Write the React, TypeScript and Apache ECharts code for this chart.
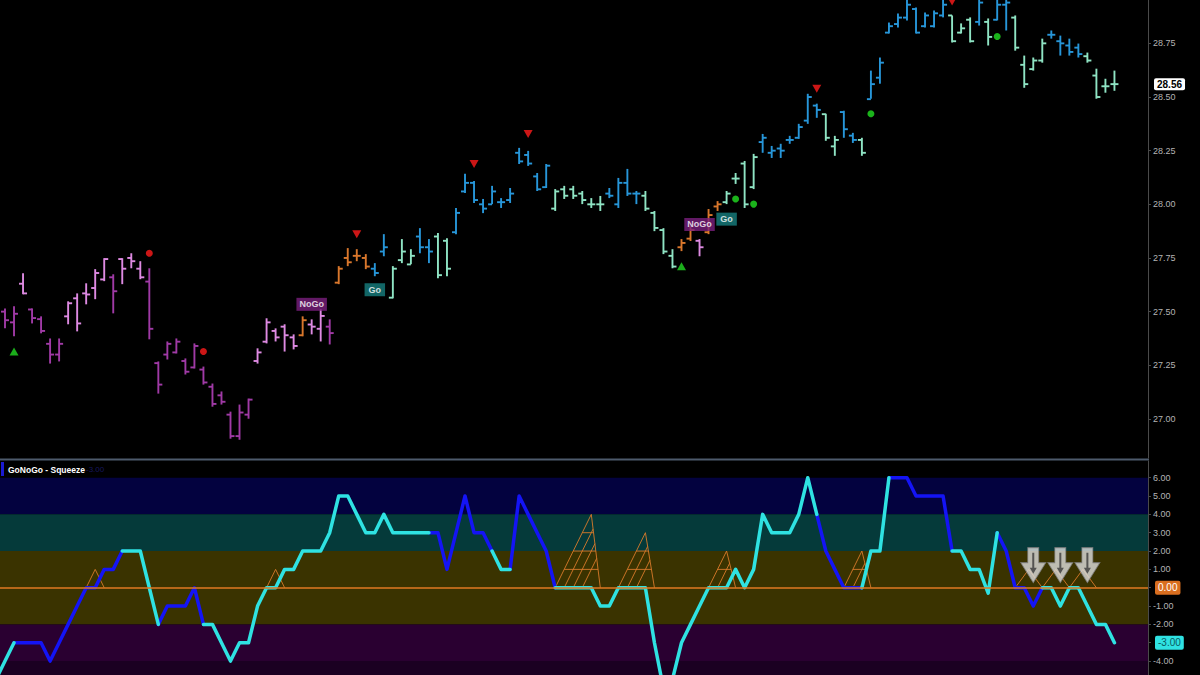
import React, { useEffect, useRef } from "react";
import * as echarts from "echarts";

// ---------- price bars (one entry per bar, left to right) ----------
const opens = [
  27.50, 27.45, 27.63, 27.51, 27.465, 27.35, 27.30, 27.478, 27.562, 27.585,
  27.61, 27.65, 27.66, 27.745, 27.75, 27.70, 27.64, 27.26, 27.30, 27.31,
  27.27, 27.24, 27.23, 27.15, 27.11, 27.02, 26.92, 27.02, 27.27, 27.36,
  27.41, 27.43, 27.38, 27.39, 27.44, 27.42, 27.43, 27.635, 27.75, 27.76,
  27.75, 27.70, 27.78, 27.565, 27.74, 27.72, 27.85, 27.80, 27.85, 27.83,
  27.87, 28.06, 28.10, 28.00, 28.00, 28.01, 28.02, 28.24, 28.23, 28.13,
  28.08, 27.98, 28.07, 28.07, 28.05, 28.00, 28.00, 28.05, 28.00, 28.10,
  28.05, 28.04, 27.96, 27.88, 27.76, 27.80, 27.84, 27.83, 27.87, 27.99,
  28.01, 28.12, 28.19, 28.08, 28.29, 28.24, 28.26, 28.30, 28.31, 28.39,
  28.46, 28.42, 28.27, 28.43, 28.32, 28.30, 28.49, 28.59, 28.80, 28.84,
  28.87, 28.91, 28.83, 28.83, 28.88, 28.88, 28.80, 28.86, 28.85, 28.85,
  28.86, 28.93, 28.87, 28.65, 28.63, 28.67, 28.79, 28.76, 28.74, 28.73,
  28.69, 28.60, 28.55, 28.56,
];
const highs = [
  27.515, 27.525, 27.679, 27.515, 27.478, 27.375, 27.375, 27.548, 27.585, 27.632,
  27.698, 27.749, 27.674, 27.749, 27.772, 27.735, 27.702, 27.268, 27.361, 27.375,
  27.282, 27.352, 27.244, 27.165, 27.128, 27.034, 27.067, 27.095, 27.329, 27.469,
  27.422, 27.441, 27.394, 27.478, 27.464, 27.511, 27.464, 27.712, 27.796, 27.791,
  27.768, 27.726, 27.861, 27.712, 27.838, 27.791, 27.889, 27.838, 27.866, 27.842,
  27.983, 28.142, 28.109, 28.025, 28.086, 28.029, 28.076, 28.263, 28.249, 28.146,
  28.188, 28.071, 28.086, 28.086, 28.062, 28.029, 28.039, 28.076, 28.123, 28.165,
  28.062, 28.062, 27.969, 27.889, 27.791, 27.838, 27.899, 27.838, 27.978, 28.015,
  28.062, 28.146, 28.202, 28.235, 28.328, 28.272, 28.282, 28.319, 28.375, 28.515,
  28.469, 28.422, 28.319, 28.436, 28.333, 28.310, 28.623, 28.684, 28.847, 28.889,
  28.97, 28.917, 28.894, 28.903, 28.97, 28.880, 28.843, 28.871, 28.97, 28.866,
  28.97, 28.97, 28.880, 28.693, 28.684, 28.772, 28.810, 28.786, 28.772, 28.749,
  28.707, 28.632, 28.585, 28.623,
];
const lows = [
  27.422, 27.385, 27.581, 27.445, 27.399, 27.258, 27.268, 27.441, 27.408, 27.534,
  27.558, 27.642, 27.492, 27.628, 27.702, 27.651, 27.371, 27.118, 27.277, 27.305,
  27.207, 27.235, 27.160, 27.057, 27.067, 26.908, 26.903, 27.001, 27.258, 27.352,
  27.361, 27.314, 27.324, 27.385, 27.394, 27.361, 27.347, 27.628, 27.712, 27.735,
  27.698, 27.665, 27.758, 27.562, 27.726, 27.721, 27.772, 27.726, 27.656, 27.665,
  27.861, 28.053, 28.006, 27.959, 28.001, 27.983, 28.006, 28.188, 28.179, 28.062,
  28.076, 27.969, 28.025, 28.025, 28.001, 27.983, 27.969, 28.029, 27.983, 28.039,
  28.001, 27.969, 27.875, 27.768, 27.702, 27.782, 27.829, 27.758, 27.861, 27.969,
  28.001, 28.095, 27.983, 28.071, 28.240, 28.216, 28.216, 28.282, 28.305, 28.375,
  28.403, 28.296, 28.226, 28.310, 28.286, 28.226, 28.492, 28.562, 28.796, 28.824,
  28.857, 28.796, 28.824, 28.824, 28.871, 28.754, 28.796, 28.754, 28.833, 28.740,
  28.857, 28.810, 28.716, 28.543, 28.623, 28.660, 28.772, 28.693, 28.693, 28.684,
  28.660, 28.492, 28.520, 28.529,
];
const closes = [
  27.46, 27.49, 27.585, 27.47, 27.41, 27.30, 27.35, 27.539, 27.445, 27.58,
  27.68, 27.745, 27.595, 27.70, 27.735, 27.66, 27.42, 27.16, 27.35, 27.36,
  27.22, 27.34, 27.17, 27.07, 27.08, 26.92, 27.03, 27.09, 27.31, 27.45,
  27.38, 27.39, 27.34, 27.46, 27.43, 27.48, 27.40, 27.70, 27.73, 27.76,
  27.71, 27.68, 27.80, 27.70, 27.78, 27.76, 27.80, 27.78, 27.67, 27.70,
  27.96, 28.10, 28.02, 27.98, 28.06, 28.01, 28.05, 28.20, 28.19, 28.07,
  28.18, 28.06, 28.04, 28.04, 28.02, 28.00, 28.00, 28.04, 28.10, 28.05,
  28.05, 27.98, 27.89, 27.78, 27.71, 27.82, 27.88, 27.80, 27.95, 28.00,
  28.05, 28.12, 28.00, 28.22, 28.31, 28.25, 28.25, 28.30, 28.36, 28.50,
  28.44, 28.31, 28.30, 28.35, 28.30, 28.24, 28.56, 28.66, 28.83, 28.87,
  28.93, 28.80, 28.88, 28.89, 28.93, 28.76, 28.82, 28.76, 28.94, 28.78,
  28.93, 28.94, 28.73, 28.56, 28.67, 28.75, 28.79, 28.75, 28.71, 28.70,
  28.67, 28.50, 28.55, 28.56,
];
// P = strong NoGo, K = weak NoGo, O = amber, B = strong Go, A = weak Go
const barRegimes = (
  "PP" + "K" + "PPPP" + "KKKKK" + "P" + "KKK" + "PPPPPPPPPPPP" + "KKKKK" + "O" + "KK" + "P" +
  "OOOO" + "BB" + "AAA" + "BB" + "AA" + "BBBBBBBBBBB" + "AAAAAA" + "BBBB" + "AAAA" + "OO" + "K" +
  "OO" + "AAAA" + "BBBBBBB" + "AA" + "BB" + "A" + "BBBBBBBBB" + "AAA" + "B" + "A" + "BB" +
  "AAAA" + "BBBB" + "AAAA"
).split("");

const priceTicks = [27.0, 27.25, 27.5, 27.75, 28.0, 28.25, 28.5, 28.75];

// ---------- price markers (bar index, price) ----------
const redDotIdx = [16, 22];
const redDotPrice = [27.772, 27.314];
const redTriIdx = [39, 52, 58, 90, 105];
const redTriPrice = [27.861, 28.188, 28.328, 28.539, 28.945];
const greenTriIdx = [1, 75];
const greenTriPrice = [27.314, 27.712];
const greenDotIdx = [81, 83, 96, 110];
const greenDotPrice = [28.025, 28.001, 28.422, 28.782];
const noGoIdx = [34, 77];
const noGoPrice = [27.534, 27.906];
const goIdx = [41, 80];
const goPrice = [27.602, 27.931];

// ---------- GoNoGo squeeze (first value sits at bar index -1) ----------
const SQ_FIRST_IDX = -1;
const squeeze = [
  -5, -4, -3, -3, -3, -3, -4, -3, -2, -1,
  0, 0, 1, 1, 2, 2, 2, 0, -2, -1,
  -1, -1, 0, -2, -2, -3, -4, -3, -3, -1,
  0, 0, 1, 1, 2, 2, 2, 3, 5, 5,
  4, 3, 3, 4, 3, 3, 3, 3, 3, 3,
  1, 3, 5, 3, 3, 2, 1, 1, 5, 4,
  3, 2, 0, 0, 0, 0, 0, -1, -1, 0,
  0, 0, 0, -3, -5.5, -5, -3, -2, -1, 0,
  0, 0, 1, 0, 1, 4, 3, 3, 3, 4,
  6, 4, 2, 1, 0, 0, 0, 2, 2, 6,
  6, 6, 5, 5, 5, 5, 2, 2, 1, 1,
  -0.3, 3, 2, 0, 0, -1, 0, 0, -1, 0,
  0, -1, -2, -2, -3,
];
// colour of each segment between consecutive squeeze points: C = cyan, B = blue
const squeezeSegColors =
  "CC" + "BBBBBBBBBBBB" + "CCCC" + "BBBBB" + "CCCCCCCCCCCCCCCCCCCCCCCCC" + "BBBBBBB" + "CC" +
  "BBBBB" + "CCCCCCCCCCCCCCCCCCCCCCCCCCCCC" + "BBBBB" + "CCC" + "BBBBBBB" + "CCCCC" + "BBBBB" + "CCCCCCCC";
const squeezeTicks = [-4, -3, -2, -1, 0, 1, 2, 3, 4, 5, 6];

// squeeze build-up grids
const sqStart = [9, 29, 61, 68, 78, 93, 112, 115, 118];
const sqApex = [10, 30, 65, 71, 80, 95, 113.5, 116.5, 119.5];
const sqEnd = [11, 31, 66, 72, 81, 96, 115, 118, 121];
const sqLevel = [1, 1, 4, 3, 2, 2, 1, 1, 1];

// down arrows
const arrowIdx = [114, 117, 120];
const arrowLevel = [1.23, 1.23, 1.23];

// background zones
const bandLo = [4, 2, -2, -4, -6];
const bandHi = [6, 4, 2, -2, -4];

// ---------- styling ----------
const FONT = "'Liberation Sans', Arial, Helvetica, sans-serif";
const REGIME_COLORS: Record<string, string> = {
  P: "#a03aa6",
  K: "#de8ae2",
  O: "#d9772c",
  B: "#2796d9",
  A: "#8fe4c4",
};
const BAND_COLORS = ["#03023f", "#053a3a", "#3a3300", "#2a0031", "#1b0022"];
const X_MIN = -0.554;
const X_MAX = 126.72;
const P_MIN = 26.818;
const P_MAX = 28.952;
const S_MIN = -4.76;
const S_MAX = 6.91;

const ARROW_PATH = "path://M7,0 L18,0 L18,15 L25,15 L12.5,35 L0,15 L7,15 Z";
const ARROW_INNER = "path://M2.5,0 L4.5,0 L4.5,15 L7,15 L3.5,21 L0,15 L2.5,15 Z";

export default function App() {
  const ref = useRef<HTMLDivElement>(null);

  useEffect(() => {
    if (!ref.current) return;
    const chart = echarts.init(ref.current, undefined, { renderer: "svg" });

    const ohlcData = opens.map((o, i) => [i, o, highs[i], lows[i], closes[i]]);
    const sqPoints = squeeze.map((v, k) => [k + SQ_FIRST_IDX, v]);
    const pick = (code: string) =>
      sqPoints.map((p, k) =>
        squeezeSegColors[k - 1] === code || squeezeSegColors[k] === code ? p : [p[0], "-"]
      );
    const lastClose = closes[closes.length - 1];
    const lastSq = squeeze[squeeze.length - 1];
    const sqLabelTicks = squeezeTicks.filter((v) => v !== 0 && v !== lastSq);

    const axisLabelBase = { color: "#b4b4b4", fontSize: 9, fontFamily: FONT, margin: 5 };
    const hidden = "rgba(0,0,0,0)";

    const option: any = {
      animation: false,
      backgroundColor: "#000000",
      title: {
        text: "GoNoGo - Squeeze",
        left: 8,
        top: 465,
        padding: 0,
        textStyle: { color: "#ffffff", fontSize: 8.5, fontWeight: "bold", fontFamily: FONT },
      },
      graphic: [
        { type: "rect", shape: { x: 0, y: 458.5, width: 1149, height: 2 }, style: { fill: "#4d5a6c" } },
        { type: "rect", shape: { x: 1, y: 462, width: 3, height: 14 }, style: { fill: "#1a1ad0" } },
        {
          type: "text",
          x: 86,
          y: 465,
          style: { text: lastSq.toFixed(2), fill: "#17175e", fontSize: 8, fontFamily: FONT },
        },
      ],
      grid: [
        { left: 0, top: 0, width: 1148, height: 458 },
        { left: 0, top: 461, width: 1148, height: 214 },
      ],
      xAxis: [
        { type: "value", gridIndex: 0, min: X_MIN, max: X_MAX, show: false },
        { type: "value", gridIndex: 1, min: X_MIN, max: X_MAX, show: false },
      ],
      yAxis: [
        {
          type: "value",
          gridIndex: 0,
          position: "right",
          min: P_MIN,
          max: P_MAX,
          splitLine: { show: false },
          axisLine: { show: true, onZero: false, lineStyle: { color: "#4a4a4a", width: 1 } },
          axisTick: { show: true, length: 3, lineStyle: { color: "#4a4a4a" }, customValues: priceTicks },
          axisLabel: { ...axisLabelBase, customValues: priceTicks, formatter: (v: number) => v.toFixed(2) },
        },
        {
          type: "value",
          gridIndex: 1,
          position: "right",
          min: S_MIN,
          max: S_MAX,
          splitLine: { show: false },
          axisLine: { show: true, onZero: false, lineStyle: { color: "#4a4a4a", width: 1 } },
          axisTick: { show: true, length: 3, lineStyle: { color: "#4a4a4a" }, customValues: squeezeTicks },
          axisLabel: { ...axisLabelBase, customValues: sqLabelTicks, formatter: (v: number) => v.toFixed(2) },
        },
      ],
      series: [
        // OHLC bars
        {
          type: "custom",
          xAxisIndex: 0,
          yAxisIndex: 0,
          clip: true,
          z: 2,
          encode: { x: 0, y: [1, 2, 3, 4] },
          data: ohlcData,
          renderItem: (params: any, api: any) => {
            const i = api.value(0);
            const pO = api.coord([i, api.value(1)]);
            const pH = api.coord([i, api.value(2)]);
            const pL = api.coord([i, api.value(3)]);
            const pC = api.coord([i, api.value(4)]);
            const color = REGIME_COLORS[barRegimes[params.dataIndex]] || "#2796d9";
            const x = pH[0];
            const st = { stroke: color, lineWidth: 1.9 };
            return {
              type: "group",
              children: [
                { type: "line", shape: { x1: x, y1: pH[1], x2: x, y2: pL[1] }, style: st },
                { type: "line", shape: { x1: x - 4, y1: pO[1], x2: x, y2: pO[1] }, style: st },
                { type: "line", shape: { x1: x, y1: pC[1], x2: x + 4, y2: pC[1] }, style: st },
              ],
            };
          },
        },
        {
          type: "scatter",
          xAxisIndex: 0,
          yAxisIndex: 0,
          symbol: "circle",
          symbolSize: 7,
          itemStyle: { color: "#ff1c1c" },
          data: redDotIdx.map((x, k) => [x, redDotPrice[k]]),
          z: 4,
        },
        {
          type: "scatter",
          xAxisIndex: 0,
          yAxisIndex: 0,
          symbol: "triangle",
          symbolRotate: 180,
          symbolSize: [9, 8],
          itemStyle: { color: "#ff1c1c" },
          data: redTriIdx.map((x, k) => [x, redTriPrice[k]]),
          z: 4,
        },
        {
          type: "scatter",
          xAxisIndex: 0,
          yAxisIndex: 0,
          symbol: "triangle",
          symbolSize: [9, 8],
          itemStyle: { color: "#22d822" },
          data: greenTriIdx.map((x, k) => [x, greenTriPrice[k]]),
          z: 4,
        },
        {
          type: "scatter",
          xAxisIndex: 0,
          yAxisIndex: 0,
          symbol: "circle",
          symbolSize: 7,
          itemStyle: { color: "#22e022" },
          data: greenDotIdx.map((x, k) => [x, greenDotPrice[k]]),
          z: 4,
          markLine: {
            silent: true,
            symbol: ["none", "none"],
            data: [
              {
                yAxis: lastClose,
                lineStyle: { color: hidden, width: 0 },
                label: {
                  show: true,
                  position: "end",
                  distance: 6,
                  formatter: lastClose.toFixed(2),
                  backgroundColor: "#ffffff",
                  color: "#000000",
                  fontWeight: "bold",
                  fontSize: 10,
                  fontFamily: FONT,
                  padding: [1, 3],
                  borderRadius: 2,
                },
              },
            ],
          },
        },
        {
          type: "scatter",
          xAxisIndex: 0,
          yAxisIndex: 0,
          symbolSize: 1,
          itemStyle: { color: hidden },
          data: noGoIdx.map((x, k) => [x, noGoPrice[k]]),
          z: 6,
          label: {
            show: true,
            position: "inside",
            formatter: "NoGo",
            color: "#ffffff",
            fontWeight: "bold",
            fontSize: 9,
            fontFamily: FONT,
            backgroundColor: "#7a1f7e",
            padding: [2, 3],
          },
        },
        {
          type: "scatter",
          xAxisIndex: 0,
          yAxisIndex: 0,
          symbolSize: 1,
          itemStyle: { color: hidden },
          data: goIdx.map((x, k) => [x, goPrice[k]]),
          z: 6,
          label: {
            show: true,
            position: "inside",
            formatter: "Go",
            color: "#ffffff",
            fontWeight: "bold",
            fontSize: 9,
            fontFamily: FONT,
            backgroundColor: "#17807f",
            padding: [2, 4],
          },
        },
        // background zones of the squeeze panel
        {
          type: "custom",
          xAxisIndex: 1,
          yAxisIndex: 1,
          clip: true,
          z: 0,
          silent: true,
          encode: { x: 0, y: [1, 2] },
          data: bandLo.map((lo, k) => [X_MIN, lo, bandHi[k]]),
          renderItem: (params: any, api: any) => {
            const top = api.coord([X_MIN, api.value(2)]);
            const bot = api.coord([X_MIN, api.value(1)]);
            const cs = params.coordSys;
            return {
              type: "rect",
              shape: { x: cs.x, y: top[1], width: cs.width, height: bot[1] - top[1] },
              style: { fill: BAND_COLORS[params.dataIndex] },
            };
          },
        },
        // squeeze build-up grids
        {
          type: "custom",
          xAxisIndex: 1,
          yAxisIndex: 1,
          clip: true,
          z: 2,
          silent: true,
          encode: { x: 0, y: 1 },
          data: sqStart.map((s, k) => [s, sqLevel[k]]),
          renderItem: (params: any, api: any) => {
            const k = params.dataIndex;
            const s = sqStart[k];
            const a = sqApex[k];
            const e = sqEnd[k];
            const L = sqLevel[k];
            const pt = (x: number, y: number) => api.coord([x, y]);
            const st = { stroke: "#d97a2a", lineWidth: 0.9, fill: null };
            const children: any[] = [
              { type: "polyline", shape: { points: [pt(s, 0), pt(a, L), pt(e, 0)] }, style: st },
            ];
            const d = (a - s) / L;
            for (let m = 1; m < L; m++) {
              const xm = s + m * d;
              const xi = (e * (a - s) + xm * (e - a)) / (e - s);
              const yi = ((e - xi) * L) / (e - a);
              const p1 = pt(xm, 0);
              const p2 = pt(xi, yi);
              children.push({ type: "line", shape: { x1: p1[0], y1: p1[1], x2: p2[0], y2: p2[1] }, style: st });
              const xl = s + ((a - s) * m) / L;
              const xr = e - ((e - a) * m) / L;
              const r1 = pt(xl, m);
              const r2 = pt(xr, m);
              children.push({ type: "line", shape: { x1: r1[0], y1: r1[1], x2: r2[0], y2: r2[1] }, style: st });
            }
            return { type: "group", children };
          },
        },
        {
          type: "line",
          xAxisIndex: 1,
          yAxisIndex: 1,
          data: pick("B"),
          symbol: "none",
          connectNulls: false,
          z: 3,
          lineStyle: { color: "#1414f5", width: 3.5, join: "round", cap: "round" },
        },
        {
          type: "line",
          xAxisIndex: 1,
          yAxisIndex: 1,
          data: pick("C"),
          symbol: "none",
          connectNulls: false,
          z: 3,
          lineStyle: { color: "#2fe2e2", width: 3.5, join: "round", cap: "round" },
          markLine: {
            silent: true,
            symbol: ["none", "none"],
            data: [
              {
                yAxis: 0,
                lineStyle: { color: "#e07a22", width: 1.6, type: "solid" },
                label: {
                  show: true,
                  position: "end",
                  distance: 7,
                  formatter: "0.00",
                  backgroundColor: "#d96e1f",
                  color: "#ffffff",
                  fontSize: 10,
                  fontFamily: FONT,
                  padding: [2, 3],
                  borderRadius: 2,
                },
              },
              {
                yAxis: lastSq,
                lineStyle: { color: hidden, width: 0 },
                label: {
                  show: true,
                  position: "end",
                  distance: 7,
                  formatter: lastSq.toFixed(2),
                  backgroundColor: "#2fe2e2",
                  color: "#0b5a60",
                  fontSize: 10,
                  fontFamily: FONT,
                  padding: [2, 3],
                  borderRadius: 2,
                },
              },
            ],
          },
        },
        // down arrows
        {
          type: "scatter",
          xAxisIndex: 1,
          yAxisIndex: 1,
          symbol: ARROW_PATH,
          symbolSize: [25, 35],
          itemStyle: { color: "#dedede", borderColor: "#7a7a7a", borderWidth: 1 },
          data: arrowIdx.map((x, k) => [x, arrowLevel[k]]),
          z: 6,
        },
        {
          type: "scatter",
          xAxisIndex: 1,
          yAxisIndex: 1,
          symbol: ARROW_INNER,
          symbolSize: [7, 21],
          symbolOffset: [0, -2],
          itemStyle: { color: "#3a3a3a" },
          data: arrowIdx.map((x, k) => [x, arrowLevel[k]]),
          z: 7,
        },
      ],
    };

    chart.setOption(option);
    return () => chart.dispose();
  }, []);

  return (
    <div
      ref={ref}
      style={{ position: "absolute", left: 0, top: 0, width: 1200, height: 675, background: "#000" }}
    />
  );
}
